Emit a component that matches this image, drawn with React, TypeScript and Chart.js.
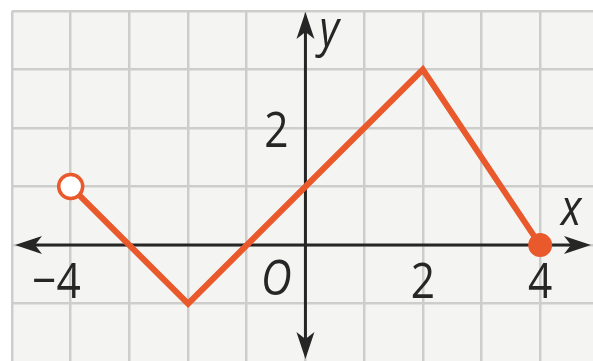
import React, { useEffect, useRef } from 'react';
import { Chart, registerables } from 'chart.js';

Chart.register(...registerables);

// Piecewise function vertices
const xValues = [-4, -2, 2, 4];
const yValues = [1, -1, 3, 0];
// endpoint styles: open circle at start, closed dot at end
const pointRadii = [12, 0, 0, 12];
const pointFills = ['#ffffff', '#e9592b', '#e9592b', '#e9592b'];
const pointBorders = [3.5, 0, 0, 0];

const xTickValues = [-4, 2, 4];
const xTickLabels = ['\u22124', '2', '4'];
const yTickValues = [2];
const yTickLabels = ['2'];
const xRange = [-5, 4.9];
const yRange = [-1.98, 4];

const ORANGE = '#e9592b';
const INK = '#262626';
const FONT = '"Open Sans", "DejaVu Sans", sans-serif';

function drawText(ctx: CanvasRenderingContext2D, s: string, x: number, y: number, align: CanvasTextAlign, italic: boolean, size = 50) {
  ctx.save();
  ctx.translate(x, y);
  ctx.scale(0.85, 1);
  ctx.font = `${italic ? 'italic ' : ''}${size}px ${FONT}`;
  ctx.textAlign = align;
  ctx.textBaseline = 'alphabetic';
  ctx.fillStyle = INK;
  ctx.fillText(s, 0, 0);
  ctx.restore();
}

function arrowHead(ctx: CanvasRenderingContext2D, tx: number, ty: number, dx: number, dy: number) {
  const L = 27, W = 9, N = 20;
  const bx = tx - dx * L, by = ty - dy * L;
  const px = -dy, py = dx;
  ctx.beginPath();
  ctx.moveTo(tx, ty);
  ctx.lineTo(bx + px * W, by + py * W);
  ctx.lineTo(tx - dx * N, ty - dy * N);
  ctx.lineTo(bx - px * W, by - py * W);
  ctx.closePath();
  ctx.fill();
}

const backgroundPlugin = {
  id: 'gridBackground',
  beforeDraw(chart: any) {
    const { ctx, chartArea } = chart;
    ctx.save();
    ctx.fillStyle = '#ffffff';
    ctx.fillRect(0, 0, chart.width, chart.height);
    ctx.fillStyle = '#f4f4f2';
    ctx.fillRect(chartArea.left, chartArea.top, chartArea.right - chartArea.left, chartArea.bottom - chartArea.top);
    ctx.restore();
  },
};

const axesPlugin = {
  id: 'arrowAxes',
  beforeDatasetsDraw(chart: any) {
    const { ctx, chartArea, scales } = chart;
    const x0 = scales.x.getPixelForValue(0);
    const y0 = scales.y.getPixelForValue(0);
    const leftTip = chartArea.left + 3;
    const rightTip = chartArea.right - 2;
    const topTip = chartArea.top + 1;
    const bottomTip = chartArea.bottom - 2;
    ctx.save();
    ctx.strokeStyle = INK;
    ctx.fillStyle = INK;
    ctx.lineWidth = 3;
    ctx.beginPath();
    ctx.moveTo(leftTip + 18, y0);
    ctx.lineTo(rightTip - 18, y0);
    ctx.moveTo(x0, topTip + 18);
    ctx.lineTo(x0, bottomTip - 18);
    ctx.stroke();
    arrowHead(ctx, leftTip, y0, -1, 0);
    arrowHead(ctx, rightTip, y0, 1, 0);
    arrowHead(ctx, x0, topTip, 0, -1);
    arrowHead(ctx, x0, bottomTip, 0, 1);
    ctx.restore();
  },
};

const labelsPlugin = {
  id: 'mathLabels',
  afterDatasetsDraw(chart: any) {
    const { ctx, scales } = chart;
    const x0 = scales.x.getPixelForValue(0);
    const y0 = scales.y.getPixelForValue(0);
    xTickValues.forEach((v, i) => {
      const px = scales.x.getPixelForValue(v);
      if (v < 0) drawText(ctx, xTickLabels[i], px + 10, y0 + 53, 'right', false);
      else drawText(ctx, xTickLabels[i], px, y0 + 53, 'center', false);
    });
    yTickValues.forEach((v, i) => {
      const py = scales.y.getPixelForValue(v);
      drawText(ctx, yTickLabels[i], x0 - 29, py + 19, 'center', false);
    });
    drawText(ctx, 'O', x0 - 29, y0 + 50, 'center', true);
    drawText(ctx, 'y', x0 + 14, scales.y.getPixelForValue(4) + 35, 'left', true);
    drawText(ctx, 'x', scales.x.getPixelForValue(4) + 31, y0 - 20, 'center', true);
  },
};

const integerTicks = (axis: any) => {
  axis.ticks = axis.ticks.filter((t: any) => Number.isInteger(t.value));
};

export default function App() {
  const canvasRef = useRef<HTMLCanvasElement | null>(null);

  useEffect(() => {
    const canvas = canvasRef.current;
    if (!canvas) return;
    const chart = new Chart(canvas, {
      type: 'line',
      data: {
        datasets: [
          {
            data: xValues.map((x, i) => ({ x, y: yValues[i] })),
            borderColor: ORANGE,
            borderWidth: 6,
            tension: 0,
            fill: false,
            pointRadius: pointRadii,
            pointHoverRadius: pointRadii,
            pointBackgroundColor: pointFills,
            pointBorderColor: ORANGE,
            pointBorderWidth: pointBorders,
            clip: false,
          } as any,
        ],
      },
      options: {
        responsive: false,
        animation: false,
        events: [],
        layout: { autoPadding: false, padding: { left: 12, top: 11, right: 0, bottom: 0 } },
        plugins: { legend: { display: false }, tooltip: { enabled: false } },
        scales: {
          x: {
            type: 'linear',
            min: xRange[0],
            max: xRange[1],
            ticks: { display: false, stepSize: 1 },
            grid: { color: '#cdcdcb', lineWidth: 2.5, drawTicks: false },
            border: { display: false },
            afterBuildTicks: integerTicks,
          },
          y: {
            type: 'linear',
            min: yRange[0],
            max: yRange[1],
            ticks: { display: false, stepSize: 1 },
            grid: { color: '#cdcdcb', lineWidth: 2.5, drawTicks: false },
            border: { display: false },
            afterBuildTicks: integerTicks,
          },
        },
      },
      plugins: [backgroundPlugin, axesPlugin, labelsPlugin],
    });
    return () => chart.destroy();
  }, []);

  return (
    <div style={{ position: 'fixed', left: 0, top: 0, width: 593, height: 361, background: '#fff' }}>
      <canvas ref={canvasRef} width={593} height={361} style={{ display: 'block' }} />
    </div>
  );
}
